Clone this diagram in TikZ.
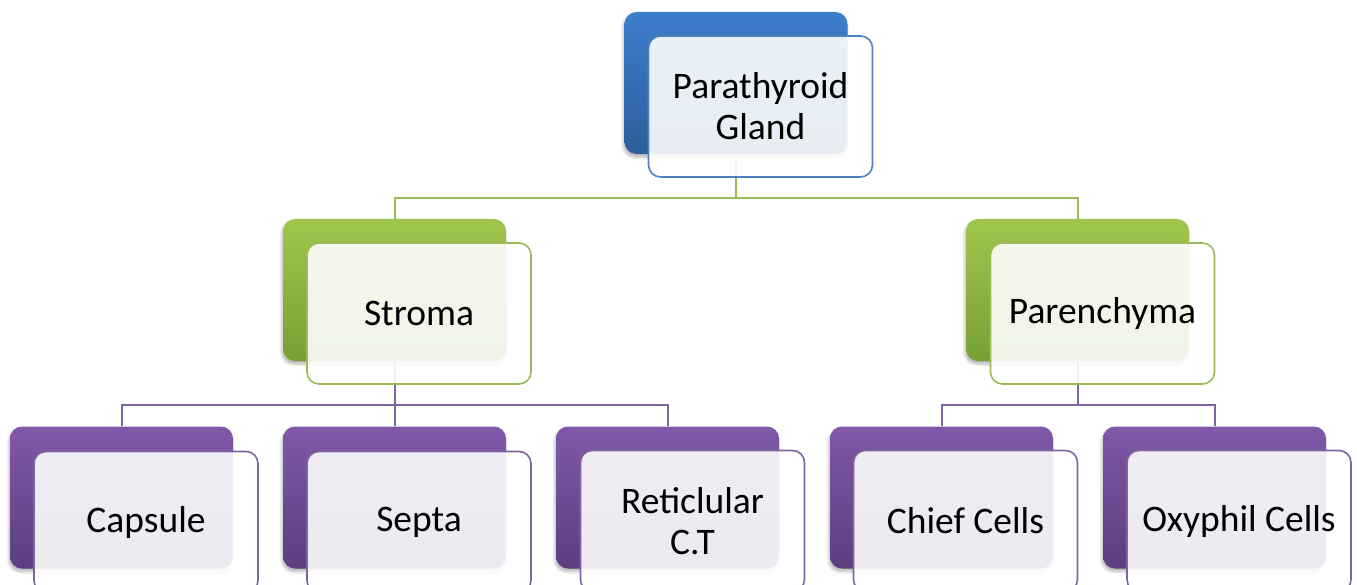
\documentclass[tikz,border=0pt]{standalone}
\usepackage{fontspec}
\setmainfont{Carlito}
\usetikzlibrary{shadows.blur}
\definecolor{bluetop}{HTML}{3D7ECC}
\definecolor{bluebot}{HTML}{2D5E9C}
\definecolor{blueline}{HTML}{4F81BD}
\definecolor{greentop}{HTML}{9FC64C}
\definecolor{greenbot}{HTML}{789F33}
\definecolor{greenline}{HTML}{9BBB59}
\definecolor{purptop}{HTML}{7F59A8}
\definecolor{purpbot}{HTML}{5C3E80}
\definecolor{purpline}{HTML}{8064A2}
\tikzset{
  backbox/.style={rectangle, rounded corners=12pt, minimum width=223pt, minimum height=142pt, inner sep=0pt,
    blur shadow={shadow blur steps=6, shadow xshift=-1pt, shadow yshift=-3pt, shadow opacity=30, shadow blur radius=3pt}},
  bluebox/.style={backbox, top color=bluetop, bottom color=bluebot},
  greenbox/.style={backbox, top color=greentop, bottom color=greenbot},
  purpbox/.style={backbox, top color=purptop, bottom color=purpbot},
  frontbox/.style={rectangle, rounded corners=12pt, minimum width=224pt, minimum height=141pt, inner sep=0pt,
    fill=white, fill opacity=0.89, text opacity=1, line width=1.6pt, align=center,
    font=\fontsize{37.5pt}{41pt}\selectfont},
  conn/.style={line width=2pt},
}
\begin{document}
\begin{tikzpicture}[x=1pt,y=-1pt]
\useasboundingbox (0,0) rectangle (1357,585);
% back boxes
\node[bluebox] (topB) at (736,83) {};
\node[greenbox] (strB) at (394.5,290) {};
\node[greenbox] (parB) at (1077.5,290) {};
\node[purpbox] (capB) at (121.5,497.5) {};
\node[purpbox] (sepB) at (394.5,497.5) {};
\node[purpbox] (retB) at (667.5,497.5) {};
\node[purpbox] (chiB) at (941.5,497.5) {};
\node[purpbox] (oxyB) at (1214.5,497.5) {};
% connectors
\draw[conn, greenline] (topB.south) -- ++(0,44) -| (strB.north);
\draw[conn, greenline] (topB.south) -- ++(0,44) -| (parB.north);
\draw[conn, purpline] (strB.south) -- ++(0,44) -| (capB.north);
\draw[conn, purpline] (strB.south) -- (sepB.north);
\draw[conn, purpline] (strB.south) -- ++(0,44) -| (retB.north);
\draw[conn, purpline] (parB.south) -- ++(0,44) -| (chiB.north);
\draw[conn, purpline] (parB.south) -- ++(0,44) -| (oxyB.north);
% front boxes
\node[frontbox, draw=blueline] (topF) at (760.5,106.5) {Parathyroid\\Gland};
\node[frontbox, draw=greenline] (strF) at (419,313.5) {Stroma};
\node[frontbox, draw=greenline] (parF) at (1102.5,313.5) {Parenchyma};
\node[frontbox, draw=purpline] (capF) at (146,522) {Capsule};
\node[frontbox, draw=purpline] (sepF) at (419,522) {Septa};
\node[frontbox, draw=purpline] (retF) at (692.5,521) {Reticlular\\C.T};
\node[frontbox, draw=purpline] (chiF) at (965.5,521) {Chief Cells};
\node[frontbox, draw=purpline] (oxyF) at (1239,521) {Oxyphil Cells};
\end{tikzpicture}
\end{document}
